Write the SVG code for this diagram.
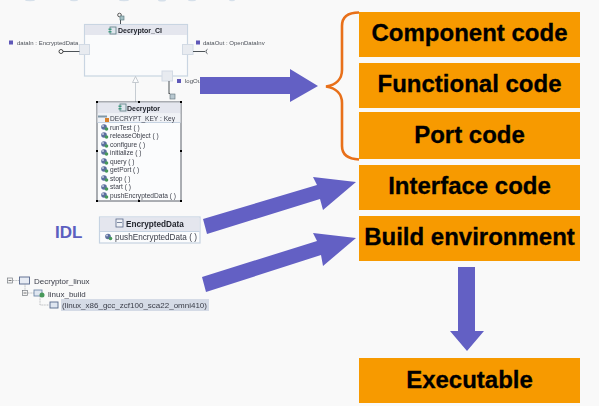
<svg xmlns="http://www.w3.org/2000/svg" xmlns:xlink="http://www.w3.org/1999/xlink" width="599" height="406" viewBox="0 0 599 406">
<style>
.box{fill:#f79a00}
.big{font:bold 24px "Liberation Sans",Arial,sans-serif;fill:#000;stroke:#000;stroke-width:.3;text-anchor:middle}
.arrow{fill:#6360c4}
.lbl{font:6px "Liberation Sans",Arial,sans-serif;fill:#4c5058}
.mem{font:6.6px "Liberation Sans",Arial,sans-serif;fill:#3a3d48}
.tree{font:8px "Liberation Sans",Arial,sans-serif;fill:#3a3d48}
.ttl{font:bold 7px "Liberation Sans",Arial,sans-serif;fill:#23262e}
.wire{stroke:#4d5258;stroke-width:1;fill:none}
.port{fill:#e8ebf0;stroke:#d2dae4;stroke-width:1}
.sq{fill:#5f58b8}
.hd{fill:#000}
</style>
<defs>
<g id="mi"><circle cx="3" cy="3" r="2.800" fill="#5b6f9e"/><circle cx="2" cy="2" r="1" fill="#c4cce0"/><circle cx="5.500" cy="5" r="1.800" fill="#46985a"/></g>
<g id="ci"><rect x="0" y="0" width="6" height="7" fill="#dfe6ee" stroke="#5a7c80" stroke-width=".8"/><rect x="-1.500" y="1.500" width="3" height="1.500" fill="#3f9b80"/><rect x="-1.500" y="4" width="3" height="1.500" fill="#3f9b80"/></g>
<filter id="soft" x="-5%" y="-5%" width="110%" height="110%"><feGaussianBlur stdDeviation="0.3"/></filter>
</defs>
<rect width="599" height="406" fill="#f9f9f9"/>
<g fill="#d6e0ea"><ellipse cx="30" cy="0" rx="5" ry="1.200"/><ellipse cx="74" cy="0" rx="4" ry="1.200"/><ellipse cx="124" cy="0" rx="5" ry="1.200"/><ellipse cx="162" cy="0" rx="4" ry="1.500"/><ellipse cx="192" cy="0" rx="4" ry="1.200"/><ellipse cx="232" cy="0" rx="3" ry="1.200"/></g>

<g id="uml" filter="url(#soft)">
<g id="decryptor-ci">
<rect x="84.500" y="24.500" width="103" height="51.500" fill="#fafbfc" stroke="#c9d5e2" stroke-width="1.200"/>
<rect x="85" y="25" width="102" height="10" fill="#e4e6ee"/>
<use xlink:href="#ci" href="#ci" x="110" y="27"/>
<text class="ttl" x="118" y="33">Decryptor_CI</text>
<path class="wire" d="M120.500 24V17"/>
<g transform="translate(118,13)"><circle cx="1.500" cy="2" r="1.800" fill="none" stroke="#555"/><rect x="2" y="3" width="4" height="4" fill="#a5c0c4" stroke="#4f7078" stroke-width=".6"/></g>
<rect class="port" x="79.500" y="44.500" width="10" height="10"/>
<rect class="port" x="182.500" y="44.500" width="10.500" height="10"/>
<rect class="port" x="162" y="71" width="10.500" height="10"/>
<path class="wire" d="M63 51.500H79.500M193 51.500H205"/>
<circle cx="61" cy="51.500" r="2" fill="#fff" stroke="#333" stroke-width=".9"/>
<path class="wire" d="M207.500 49.200A2.500 2.500 0 0 0 207.500 53.800"/>
<path class="wire" d="M169 81V94"/>
<g transform="translate(168,92)"><path d="M1 1L3 3" stroke="#555"/><rect x="2" y="2" width="5" height="5" fill="#b8c8d0" stroke="#607078" stroke-width=".6"/></g>
<rect class="sq" x="9" y="40.500" width="4" height="4"/>
<text class="lbl" x="17" y="44.500">dataIn : EncryptedData</text>
<rect class="sq" x="196" y="40.500" width="4" height="4"/>
<text class="lbl" x="203" y="44.500">dataOut : OpenDataInv</text>
<rect class="sq" x="177" y="79" width="4" height="4"/>
<text class="lbl" x="185" y="83">logOut</text>
</g>
<g id="generalization">
<path d="M135.500 82.500V102" stroke="#c6ccd2" fill="none"/>
<path d="M135.500 76.500L132.500 82.500H138.500Z" fill="#fbfcfd" stroke="#b8bec4" stroke-width=".8"/>
</g>
<g id="decryptor">
<rect x="97" y="102" width="84" height="99" fill="#fbfcfd" stroke="#5a6068" stroke-width="1"/>
<rect x="97.500" y="102.500" width="83" height="11" fill="#e4e6ee"/>
<rect x="97.500" y="113.500" width="83" height="9" fill="#f0f2f6"/>
<path d="M97.500 122.500H180.500" stroke="#c6d3e2"/>
<use xlink:href="#ci" href="#ci" x="120" y="104"/>
<text class="ttl" x="127" y="110.500">Decryptor</text>
<path d="M98 116.500H107" stroke="#8098a8" stroke-width="2"/><rect x="105" y="118" width="4" height="4" fill="#d8802a"/>
<text class="mem" x="110" y="120.500">DECRYPT_KEY : Key</text>
<use xlink:href="#mi" href="#mi" x="101" y="124"/><text class="mem" x="110" y="129.500">runTest ( )</text>
<use xlink:href="#mi" href="#mi" x="101" y="132"/><text class="mem" x="110" y="138">releaseObject ( )</text>
<use xlink:href="#mi" href="#mi" x="101" y="141"/><text class="mem" x="110" y="146.500">configure ( )</text>
<use xlink:href="#mi" href="#mi" x="101" y="149"/><text class="mem" x="110" y="155">initialize ( )</text>
<use xlink:href="#mi" href="#mi" x="101" y="158"/><text class="mem" x="110" y="163.500">query ( )</text>
<use xlink:href="#mi" href="#mi" x="101" y="166"/><text class="mem" x="110" y="172">getPort ( )</text>
<use xlink:href="#mi" href="#mi" x="101" y="175"/><text class="mem" x="110" y="180.500">stop ( )</text>
<use xlink:href="#mi" href="#mi" x="101" y="184"/><text class="mem" x="110" y="189">start ( )</text>
<use xlink:href="#mi" href="#mi" x="101" y="192"/><text class="mem" x="110" y="198">pushEncryptedData ( )</text>
<rect class="hd" x="96" y="101" width="2" height="2"/><rect class="hd" x="138" y="101" width="2" height="2"/><rect class="hd" x="180" y="101" width="2" height="2"/>
<rect class="hd" x="96" y="150" width="2" height="2"/><rect class="hd" x="180" y="150" width="2" height="2"/>
<rect class="hd" x="96" y="200" width="2" height="2"/><rect class="hd" x="138" y="200" width="2" height="2"/><rect class="hd" x="180" y="200" width="2" height="2"/>
</g>
<g id="encrypted-data">
<rect x="99.500" y="217" width="100.500" height="26" fill="#fbfcfd" stroke="#c6d3e2" stroke-width="1.200"/>
<rect x="100" y="217.500" width="99.500" height="13.500" fill="#e4e6ee"/>
<path d="M100 231.500H199.500" stroke="#c6d3e2"/>
<rect x="116" y="219" width="7" height="8" fill="#f0f2f6" stroke="#5a6a8a" stroke-width=".8"/><path d="M117 222.500H122" stroke="#5a6a8a" stroke-width=".8"/>
<text class="ttl" x="126" y="227" style="font-size:8.200px">EncryptedData</text>
<use xlink:href="#mi" href="#mi" x="105" y="233.500"/>
<text class="mem" x="115" y="239.500" style="font-size:8.200px">pushEncryptedData ( )</text>
</g>
<g id="project-tree">
<path d="M13 280.500H19M25 283V290M28 293H34M40 296V305H49" stroke="#a8acb0" fill="none" stroke-width=".8" stroke-dasharray="1 .6"/>
<rect x="7.500" y="278" width="5" height="5" fill="#f4f4f4" stroke="#7a7e84" stroke-width=".7"/><path d="M8.500 280.500H11.500" stroke="#444" stroke-width=".7"/>
<rect x="22.500" y="290.500" width="5" height="5" fill="#f4f4f4" stroke="#7a7e84" stroke-width=".7"/><path d="M23.500 293H26.500" stroke="#444" stroke-width=".7"/>
<rect x="19.500" y="277" width="10" height="7" fill="#e8ecf4" stroke="#56668a" stroke-width=".9"/>
<rect x="34" y="290" width="8" height="6" fill="#dfe6f0" stroke="#7088a8" stroke-width=".9"/><circle cx="42" cy="295" r="2.500" fill="#46985a"/>
<rect x="50" y="302" width="8" height="6" fill="#dfe6f0" stroke="#56688a" stroke-width=".9"/>
<rect x="61" y="299" width="148" height="12" fill="#d5dbe6"/>
<text class="tree" x="34" y="284">Decryptor_linux</text>
<text class="tree" x="48" y="296.500">linux_build</text>
<text class="tree" x="62" y="308">(linux_x86_gcc_zcf100_sca22_omni410)</text>
</g>
</g>

<text id="idl" x="55" y="238" style="font:bold 17px 'Liberation Sans',Arial,sans-serif;fill:#5c5fc0">IDL</text>

<g id="brace"><path d="M359 12.500C349 12.500 342 16 342 26V70C342 79 336 85 326 86.500C336 88 342 94 342 103V146C342 155 349 159 359 159.500" fill="none" stroke="#e8701a" stroke-width="2.600"/></g>

<g id="connectors">
<path class="arrow" d="M200 77H290V69L318 86L290 102V94H200Z"/>
<path class="arrow" d="M203 219L317 185L313 177L356 182L323 210L320 199L207 234Z"/>
<path class="arrow" d="M202 277L317 241L313 233L356 238L323 266L321 255L206 292Z"/>
<path class="arrow" d="M458 267H475V331H484L467 351L450 331H458Z"/>
</g>

<g id="component-code"><rect class="box" x="359" y="12" width="221" height="45"/><text class="big" x="469.500" y="41">Component code</text></g>
<g id="functional-code"><rect class="box" x="359" y="63" width="221" height="45"/><text class="big" x="469.500" y="92">Functional code</text></g>
<g id="port-code"><rect class="box" x="359" y="112" width="221" height="47"/><text class="big" x="469.500" y="143">Port code</text></g>
<g id="interface-code"><rect class="box" x="359" y="165" width="221" height="45"/><text class="big" x="469.500" y="194">Interface code</text></g>
<g id="build-environment"><rect class="box" x="359" y="216" width="221" height="45"/><text class="big" x="469.500" y="245">Build environment</text></g>
<g id="executable"><rect class="box" x="359" y="358" width="221" height="45"/><text class="big" x="469.500" y="388">Executable</text></g>
</svg>
